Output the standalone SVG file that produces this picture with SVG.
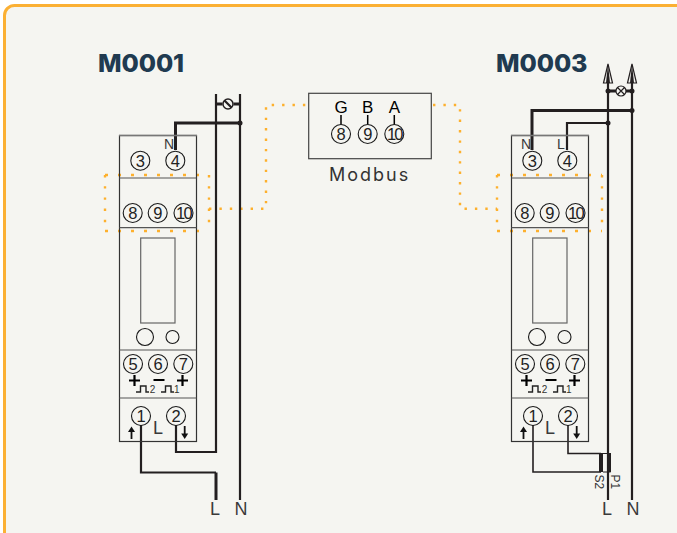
<svg xmlns="http://www.w3.org/2000/svg" width="677" height="533" viewBox="0 0 677 533">
<style>
text{font-family:"Liberation Sans",Arial,sans-serif;fill:#2b2b2b}
.t{font-size:16.500px;text-anchor:middle;letter-spacing:-.3px;fill:#222}
.ten{letter-spacing:-1.800px}
.title{font-family:Inter,"Liberation Sans",sans-serif;font-weight:800;font-size:25px;fill:#203a50;letter-spacing:-.1px}
.l{font-size:18px;text-anchor:middle;fill:#3a3a3a}
.s{font-size:14px;text-anchor:middle;fill:#3a3a3a}
.p{font-size:10px;text-anchor:middle;fill:#333}
.r{font-size:12px;text-anchor:start;fill:#333}
.g{fill:#000;font-size:17px;text-anchor:middle}
.c{fill:none;stroke:#1a1a1a;stroke-width:1.100}
.box{fill:none;stroke:#333;stroke-width:1.200}
.div{fill:none;stroke:#555;stroke-width:1.200}
.w{fill:none;stroke:#231f20;stroke-width:2.200}
.wt{fill:none;stroke:#231f20;stroke-width:3}
.w1{fill:none;stroke:#231f20;stroke-width:1.600}
.d{fill:#231f20}
.o{fill:none;stroke:#fdb02d;stroke-width:2.400;stroke-dasharray:2.400 8}
.os{fill:none;stroke:#fdb02d;stroke-width:2.400;stroke-dasharray:2.400 8.800}
.ow{fill:none;stroke:#fdb02d;stroke-width:2.400;stroke-dasharray:3 10}
.pl{fill:none;stroke:#000;stroke-width:2.200}
.pu{fill:none;stroke:#222;stroke-width:1.400}
</style>
<rect width="677" height="533" fill="#fff"/>
<rect x="4.500" y="5.500" width="700" height="560" rx="10" fill="#f5f5f1" stroke="#fbb034" stroke-width="3"/>
<text class="title" x="98" y="72">M0001</text>
<text class="title" x="496" y="72">M0003</text>

<g id="connectors">
<path class="ow" d="M105 175H209"/><path class="ow" d="M105 231H209"/>
<path class="os" d="M105 175V231M209 175V231"/>
<path class="o" d="M209 208.700H266V105H306"/>
<path class="o" d="M433 105H460V208.700H497"/>
<path class="ow" d="M497 175H602"/><path class="ow" d="M497 231H602"/>
<path class="os" d="M497 175V231M602 175V231"/>
<path class="w" d="M216 94V452H176V425"/>
<path class="w" d="M240 94V500"/>
<path class="w" d="M141 425V472.500H216"/>
<path class="wt" d="M216 472.500V500"/>
<path class="wt" d="M175.500 150V123H240"/>
<circle class="d" cx="240" cy="123" r="2.500"/>
<path class="w" d="M608 83V500"/>
<path class="w" d="M632 83V500"/>
<path class="wt" d="M532 150V110.500H632"/>
<circle class="d" cx="632" cy="110.500" r="2.500"/>
<path class="w" d="M567 150V123H608"/>
<circle class="d" cx="608" cy="123" r="2.500"/>
<path class="w1" d="M533 425V472H601"/>
<path class="w1" d="M568 425V453.500H601"/>
</g>

<g id="switch">
<path class="wt" d="M216 104H222.500M233.500 104H240"/>
<circle cx="228" cy="104" r="5" fill="none" stroke="#231f20" stroke-width="1.500"/>
<path d="M224.500 100.500L231.500 107.500" stroke="#231f20" stroke-width="2.200"/>
</g>
<g id="lamp">
<path class="wt" d="M608 91H616M626 91H632"/>
<circle class="d" cx="608" cy="91" r="2.500"/><circle class="d" cx="632" cy="91" r="2.500"/>
<circle cx="621" cy="91" r="5" fill="none" stroke="#231f20" stroke-width="1.200"/>
<path d="M617.500 87.500L624.500 94.500M624.500 87.500L617.500 94.500" stroke="#231f20" stroke-width="1.200"/>
</g>
<g id="arrows">
<path d="M608 64L612.500 83H603.500Z" fill="#f5f5f1" stroke="#231f20" stroke-width="1.200"/>
<path d="M608 64L610 83H606Z" fill="#231f20"/>
<path d="M632 64L636.500 83H627.500Z" fill="#f5f5f1" stroke="#231f20" stroke-width="1.200"/>
<path d="M632 64L634 83H630Z" fill="#231f20"/>
</g>
<g id="ct">
<rect x="599" y="453" width="4" height="19" fill="#231f20"/>
<path d="M603 453.500H610V472H603" fill="none" stroke="#231f20" stroke-width="1.200"/>
<rect x="607" y="453" width="4" height="19" fill="#231f20"/>
<text class="r" transform="translate(595 474.500) rotate(90)">S2</text>
<text class="r" transform="translate(611 474.500) rotate(90)">P1</text>
</g>

<text class="l" x="215" y="515">L</text>
<text class="l" x="241" y="515">N</text>
<text class="l" x="607" y="515">L</text>
<text class="l" x="633" y="515">N</text>

<g id="modbus">
<rect x="308.700" y="93.300" width="122.600" height="65.400" fill="none" stroke="#444" stroke-width="1.200"/>
<text class="g" x="341" y="113">G</text>
<text class="g" x="367.700" y="113">B</text>
<text class="g" x="394.300" y="113">A</text>
<path d="M341 115V124.500M367.700 115V124.500M394.300 115V124.500" stroke="#000" stroke-width="1.500"/>
<circle class="c" cx="341" cy="134" r="9.500"/><circle class="c" cx="367.700" cy="134" r="9.500"/><circle class="c" cx="394.300" cy="134" r="9.500"/>
<text class="t" x="341" y="140">8</text><text class="t" x="367.700" y="140">9</text><text class="t ten" x="394.300" y="140">10</text>
<text x="329" y="181" style="font-family:Inter,'Liberation Sans',sans-serif;font-size:18px;letter-spacing:2px;fill:#333">Modbus</text>
</g>

<g id="meter-m0001">
<rect class="box" x="119.500" y="135.500" width="77" height="306"/>
<path d="M119 135.500H197" stroke="#777" stroke-width="1.600"/>
<path class="div" d="M119.500 178H196.500M119.500 227.700H196.500M119.500 350H196.500M119.500 398H196.500"/>
<rect x="140.700" y="238" width="34.300" height="85" fill="none" stroke="#666" stroke-width="1.200"/>
<circle class="c" cx="145" cy="337" r="8.500"/><circle class="c" cx="172.500" cy="337" r="6.500"/>
<circle class="c" cx="140.300" cy="160.700" r="9.500"/><circle class="c" cx="175.300" cy="160.700" r="9.500"/>
<text class="t" x="140.300" y="166.700">3</text><text class="t" x="175.300" y="166.700">4</text>
<text class="s" x="169" y="149">N</text>
<circle class="c" cx="132.700" cy="213" r="9.500"/><circle class="c" cx="157.700" cy="213" r="9.500"/><circle class="c" cx="183.500" cy="213" r="9.500"/>
<text class="t" x="132.700" y="219">8</text><text class="t" x="157.700" y="219">9</text><text class="t ten" x="183.500" y="219">10</text>
<circle class="c" cx="133" cy="364" r="9.500"/><circle class="c" cx="158" cy="364" r="9.500"/><circle class="c" cx="183.300" cy="364" r="9.500"/>
<text class="t" x="133" y="370">5</text><text class="t" x="158" y="370">6</text><text class="t" x="183.300" y="370">7</text>
<path class="pl" d="M129 380.500H140M134.500 375V386M153.500 380H164.500M177 380.500H188M182.500 375V386"/>
<path class="pu" d="M136 392H140.500V386H146V392H149M161 392H165.500V386H171V392H174"/>
<text class="p" x="152.500" y="393">2</text><text class="p" x="176.800" y="393">1</text>
<circle class="c" cx="141" cy="416" r="9.500"/><circle class="c" cx="176" cy="416" r="9.500"/>
<text class="t" x="141" y="422">1</text><text class="t" x="176" y="422">2</text>
<text class="l" x="158" y="434">L</text>
<path d="M131.500 439V430" stroke="#111" stroke-width="1.800"/><path d="M131.500 426.500L135 432H128Z" fill="#111"/>
<path d="M184.700 426V435" stroke="#111" stroke-width="1.800"/><path d="M184.700 439L188.200 433.500H181.200Z" fill="#111"/>
</g>

<g id="meter-m0003" transform="translate(392)">
<rect class="box" x="119.500" y="135.500" width="77" height="306"/>
<path d="M119 135.500H197" stroke="#777" stroke-width="1.600"/>
<path class="div" d="M119.500 178H196.500M119.500 227.700H196.500M119.500 350H196.500M119.500 398H196.500"/>
<rect x="140.700" y="238" width="34.300" height="85" fill="none" stroke="#666" stroke-width="1.200"/>
<circle class="c" cx="145" cy="337" r="8.500"/><circle class="c" cx="172.500" cy="337" r="6.500"/>
<circle class="c" cx="140.300" cy="160.700" r="9.500"/><circle class="c" cx="175.300" cy="160.700" r="9.500"/>
<text class="t" x="140.300" y="166.700">3</text><text class="t" x="175.300" y="166.700">4</text>
<text class="s" x="134" y="149">N</text><text class="s" x="169" y="149">L</text>
<circle class="c" cx="132.700" cy="213" r="9.500"/><circle class="c" cx="157.700" cy="213" r="9.500"/><circle class="c" cx="183.500" cy="213" r="9.500"/>
<text class="t" x="132.700" y="219">8</text><text class="t" x="157.700" y="219">9</text><text class="t ten" x="183.500" y="219">10</text>
<circle class="c" cx="133" cy="364" r="9.500"/><circle class="c" cx="158" cy="364" r="9.500"/><circle class="c" cx="183.300" cy="364" r="9.500"/>
<text class="t" x="133" y="370">5</text><text class="t" x="158" y="370">6</text><text class="t" x="183.300" y="370">7</text>
<path class="pl" d="M129 380.500H140M134.500 375V386M153.500 380H164.500M177 380.500H188M182.500 375V386"/>
<path class="pu" d="M136 392H140.500V386H146V392H149M161 392H165.500V386H171V392H174"/>
<text class="p" x="152.500" y="393">2</text><text class="p" x="176.800" y="393">1</text>
<circle class="c" cx="141" cy="416" r="9.500"/><circle class="c" cx="176" cy="416" r="9.500"/>
<text class="t" x="141" y="422">1</text><text class="t" x="176" y="422">2</text>
<text class="l" x="158" y="434">L</text>
<path d="M131.500 439V430" stroke="#111" stroke-width="1.800"/><path d="M131.500 426.500L135 432H128Z" fill="#111"/>
<path d="M184.700 426V435" stroke="#111" stroke-width="1.800"/><path d="M184.700 439L188.200 433.500H181.200Z" fill="#111"/>
</g>
</svg>
